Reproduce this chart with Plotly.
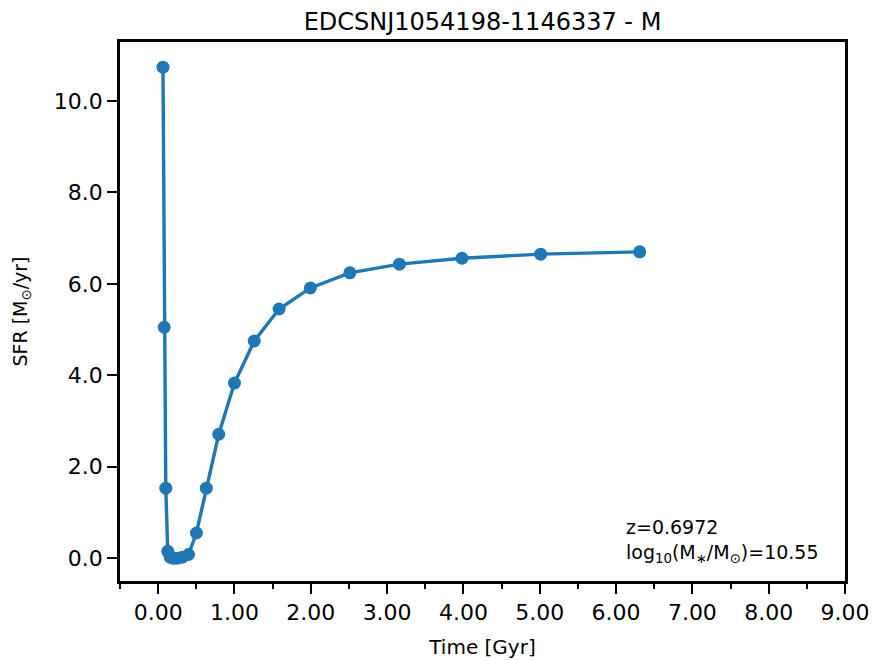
import plotly.graph_objects as go

time_gyr = [0.0631, 0.0794, 0.100, 0.126, 0.158, 0.200, 0.251, 0.316, 0.398, 0.501,
            0.631, 0.794, 1.000, 1.259, 1.585, 1.995, 2.512, 3.162, 3.981, 5.012, 6.310]
sfr = [10.74, 5.05, 1.53, 0.15, 0.02, 0.00, 0.00, 0.02, 0.08, 0.55,
       1.53, 2.71, 3.83, 4.75, 5.45, 5.91, 6.24, 6.43, 6.56, 6.65, 6.70]

title = "EDCSNJ1054198-1146337 - M"
x_ticks = [0, 1, 2, 3, 4, 5, 6, 7, 8, 9]
y_ticks = [0, 2, 4, 6, 8, 10]

blue = "#1f77b4"
font = "DejaVu Sans"

fig = go.Figure()
fig.add_trace(go.Scatter(
    x=time_gyr, y=sfr, mode="lines+markers",
    line=dict(color=blue, width=3.4),
    marker=dict(color=blue, size=13),
    showlegend=False,
))

fig.update_layout(
    width=875, height=660,
    margin=dict(l=120, r=30, t=42, b=79),
    paper_bgcolor="white", plot_bgcolor="white",
    font=dict(family=font, color="black"),
    title=dict(text=title, x=0.5, xref="paper", xanchor="center",
               y=1 - 22 / 660, yanchor="middle", pad=dict(t=0, b=0),
               font=dict(size=24, family=font)),
)

fig.update_xaxes(
    range=[-0.5, 9.0], tickvals=x_ticks, tickformat=".2f",
    ticks="outside", ticklen=10, tickwidth=2, tickcolor="black",
    tickfont=dict(size=22, family=font),
    showline=True, linewidth=2.5, linecolor="black", mirror=True,
    showgrid=False, zeroline=False, automargin=False,
    minor=dict(dtick=0.5, tick0=0, ticks="outside", ticklen=5, tickwidth=1.5, tickcolor="black"),
    title=dict(text="Time [Gyr]", font=dict(size=20, family=font), standoff=16),
)
fig.update_yaxes(
    range=[-0.50, 11.29], tickvals=y_ticks, tickformat=".1f",
    ticks="outside", ticklen=10, tickwidth=2, tickcolor="black",
    tickfont=dict(size=22, family=font),
    showline=True, linewidth=2.5, linecolor="black", mirror=True,
    showgrid=False, zeroline=False, automargin=False,
    title=dict(text="SFR [M<sub>⊙</sub>/yr]", font=dict(size=19, family=font), standoff=22),
)

fig.add_annotation(
    x=6.1, y=-0.22, xref="x", yref="y", xanchor="left", yanchor="bottom",
    align="left", showarrow=False,
    text="z=0.6972<br>log<sub>10</sub>(M<sub>∗</sub>/M<sub>⊙</sub>)=10.55",
    font=dict(size=19, family=font, color="black"),
)

fig.write_html("out.html", config={"displayModeBar": False},
               post_script="document.body.style.margin='0';document.body.style.overflow='hidden';")
